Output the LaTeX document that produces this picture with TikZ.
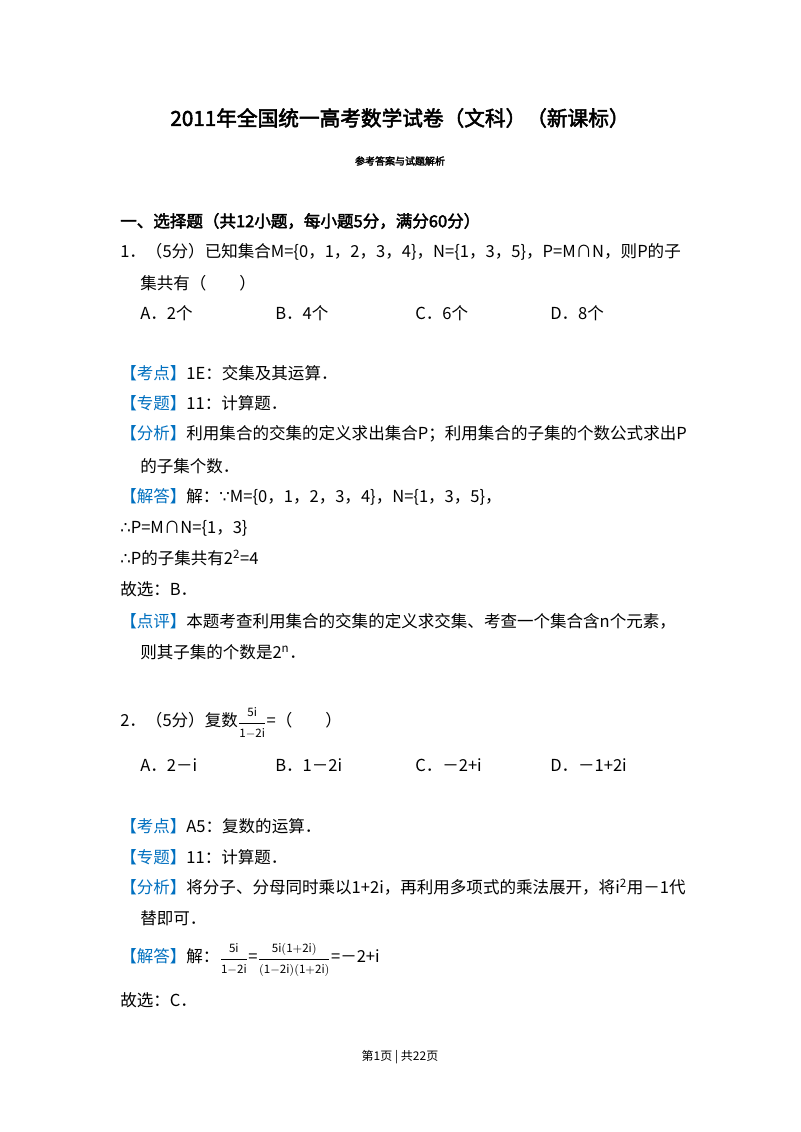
\documentclass[tikz,border=0pt]{standalone}
\usepackage{fontspec}
\setmainfont{Noto Sans CJK SC}[AutoFakeBold=2.5]
\newfontfamily\dejav{DejaVu Sans}
\definecolor{kblue}{RGB}{0,112,192}
\newcommand\myfr[2]{$\displaystyle\frac{\scriptstyle\mathrm{#1}}{\scriptstyle\mathrm{#2}}$}
\begin{document}
\begin{tikzpicture}[x=0.75pt,y=-0.75pt,
  tx/.style={anchor=west,inner sep=0pt,font=\fontsize{12.4pt}{14pt}\selectfont},
  sm/.style={anchor=center,inner sep=0pt}]
\useasboundingbox[fill=white] (0,0) rectangle (800,1132);
\def\kb#1{{\color{kblue}【#1】}}
\node[sm,font=\fontsize{15.5pt}{18pt}\selectfont\bfseries] (title) at (400,118) {2011年全国统一高考数学试卷（文科）（新课标）};
\node[sm,font=\fontsize{7.5pt}{9pt}\selectfont\bfseries] (sub) at (400,161) {参考答案与试题解析};
\node[tx,font=\fontsize{12.4pt}{14pt}\selectfont\bfseries] (sec) at (120,221) {一、选择题（共12小题，每小题5分，满分60分）};
\node[tx] (q1) at (120,252) {1．（5分）已知集合M=\{0，1，2，3，4\}，N=\{1，3，5\}，P=M∩N，则P的子};
\node[tx] (q1b) at (140,283) {集共有（\hspace{2em}）};
\node[tx] (a1) at (140,313) {A．2个};
\node[tx] (b1) at (275,313) {B．4个};
\node[tx] (c1) at (415,313) {C．6个};
\node[tx] (d1) at (550,313) {D．8个};
\node[tx] (k1) at (120,373) {\kb{考点}1E：交集及其运算．};
\node[tx] (z1) at (120,403) {\kb{专题}11：计算题．};
\node[tx] (f1) at (120,434) {\kb{分析}利用集合的交集的定义求出集合P；利用集合的子集的个数公式求出P};
\node[tx] (f1b) at (140,466) {的子集个数．};
\node[tx] (j1) at (120,497) {\kb{解答}解：{\dejav ∵}M=\{0，1，2，3，4\}，N=\{1，3，5\}，};
\node[tx] (j1b) at (120,528) {{\dejav ∴}P=M∩N=\{1，3\}};
\node[tx] (j1c) at (120,558) {{\dejav ∴}P的子集共有2\textsuperscript{2}=4};
\node[tx] (g1) at (120,589) {故选：B．};
\node[tx] (p1) at (120,621) {\kb{点评}本题考查利用集合的交集的定义求交集、考查一个集合含n个元素，};
\node[tx] (p1b) at (140,652) {则其子集的个数是2\textsuperscript{n}．};
\node[tx] (q2) at (120,723) {2．（5分）复数\myfr{5i}{1-2i}=（\hspace{2em}）};
\node[tx] (a2) at (140,765) {A．2－i};
\node[tx] (b2) at (275,765) {B．1－2i};
\node[tx] (c2) at (415,765) {C．－2+i};
\node[tx] (d2) at (550,765) {D．－1+2i};
\node[tx] (k2) at (120,826) {\kb{考点}A5：复数的运算．};
\node[tx] (z2) at (120,857) {\kb{专题}11：计算题．};
\node[tx] (f2) at (120,887) {\kb{分析}将分子、分母同时乘以1+2i，再利用多项式的乘法展开，将i\textsuperscript{2}用－1代};
\node[tx] (f2b) at (140,918) {替即可．};
\node[tx] (j2) at (120,960) {\kb{解答}解：\myfr{5i}{1-2i}=\myfr{5i(1+2i)}{(1-2i)(1+2i)}=－2+i};
\node[tx] (g2) at (120,1000) {故选：C．};
\node[sm,font=\fontsize{9pt}{11pt}\selectfont] (foot) at (400,1057) {第1页 | 共22页};
\end{tikzpicture}
\end{document}
